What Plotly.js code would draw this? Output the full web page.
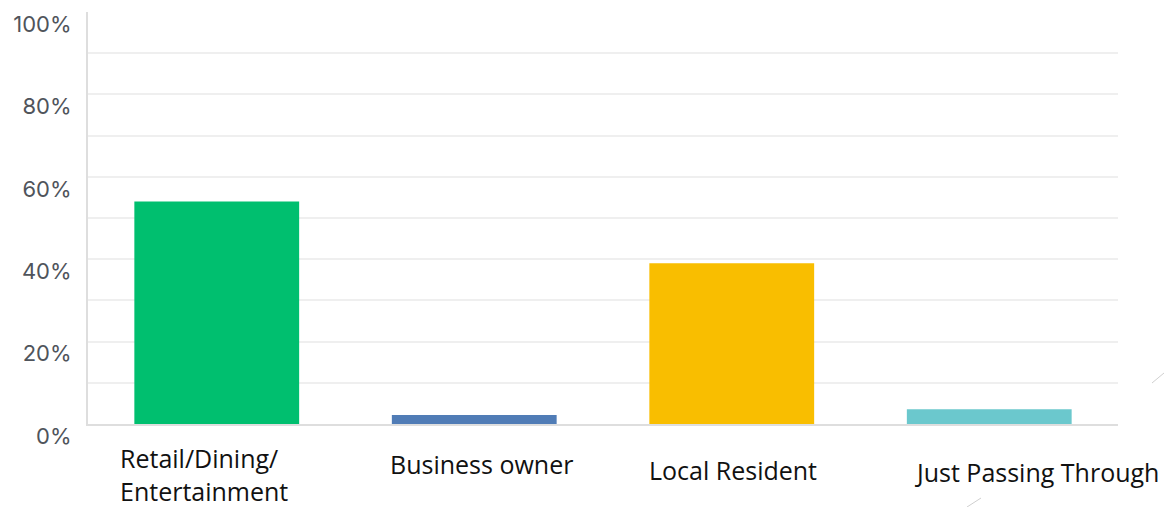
<!DOCTYPE html>
<html>
<head>
<meta charset="utf-8">
<script src="https://cdn.plot.ly/plotly-3.0.1.min.js"></script>
<style>html,body{margin:0;padding:0;background:#fff;}#chart{width:1164px;height:507px;}</style>
</head>
<body>
<div id="chart"></div>
<script>
const categories = ["Retail/Dining/<br>Entertainment", "Business owner", "Local Resident", "Just Passing Through"];
const values = [54, 2.2, 39, 3.6];
const barColors = ["#00bf6f", "#507cb6", "#f9be00", "#6bc8cd"];
const yTickVals = [0, 20, 40, 60, 80, 100];
const yTickText = ["0%", "20%", "40%", "60%", "80%", "100%"];
const labelXShift = [-13, 7, 1, 48];
const labelYShift = [-50, -40, -46, -48];
const labelAlign = ["left", "center", "center", "center"];

const trace = {
  type: "bar",
  x: categories,
  y: values,
  marker: {color: barColors},
  hoverinfo: "none"
};

const annotations = categories.map((c, i) => ({
  x: c, y: 0, xref: "x", yref: "y",
  text: c, showarrow: false,
  xanchor: "center", yanchor: "middle",
  xshift: labelXShift[i], yshift: labelYShift[i],
  align: labelAlign[i],
  borderpad: 0,
  font: {family: "Open Sans, sans-serif", size: 25, color: "#111111"}
}));

const layout = {
  width: 1164, height: 507,
  margin: {l: 88, r: 46, t: 12, b: 83},
  paper_bgcolor: "#ffffff", plot_bgcolor: "#ffffff",
  showlegend: false,
  bargap: 0.36,
  xaxis: {
    type: "category",
    range: [-0.5, 3.5],
    autorange: false,
    showticklabels: false, ticks: "",
    showgrid: false, zeroline: false,
    showline: true, linecolor: "#dedede", linewidth: 2
  },
  yaxis: {
    range: [0, 100],
    tickvals: yTickVals, ticktext: yTickText,
    ticks: "",
    ticklabelshift: 12,
    ticklabelstandoff: 10,
    tickfont: {family: "Inter, sans-serif", size: 22, color: "#4f545b"},
    showgrid: true, gridcolor: "#efefef", gridwidth: 2,
    minor: {dtick: 10, showgrid: true, gridcolor: "#efefef", gridwidth: 2, ticks: ""},
    zeroline: false,
    showline: true, linecolor: "#dedede", linewidth: 2
  },
  annotations: annotations,
  shapes: [
    {type: "line", xref: "paper", yref: "paper", x0: (1152-88)/1030, y0: (424-383)/412, x1: (1164-88)/1030, y1: (424-373)/412, line: {color: "#cfcfcf", width: 1}},
    {type: "line", xref: "paper", yref: "paper", x0: (967-88)/1030, y0: (424-507)/412, x1: (981-88)/1030, y1: (424-498)/412, line: {color: "#cfcfcf", width: 1}}
  ]
};

Plotly.newPlot("chart", [trace], layout, {displayModeBar: false, staticPlot: true});
</script>
</body>
</html>
